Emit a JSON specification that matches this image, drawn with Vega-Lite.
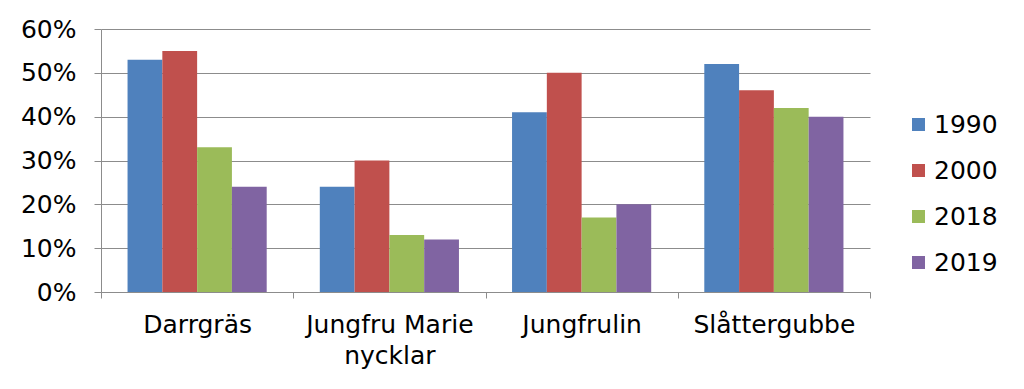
{
  "$schema": "https://vega.github.io/schema/vega-lite/v6.json",
  "width": 769,
  "height": 263,
  "autosize": {"type": "none"},
  "padding": {"left": 101, "top": 29, "right": 154, "bottom": 97},
  "background": "white",
  "config": {
    "view": {"stroke": null},
    "font": "DejaVu Sans"
  },
  "data": {
    "values": [
      {"art": "Darrgräs", "year": "1990", "value": 0.53},
      {"art": "Darrgräs", "year": "2000", "value": 0.55},
      {"art": "Darrgräs", "year": "2018", "value": 0.33},
      {"art": "Darrgräs", "year": "2019", "value": 0.24},
      {"art": "Jungfru Marie nycklar", "year": "1990", "value": 0.24},
      {"art": "Jungfru Marie nycklar", "year": "2000", "value": 0.30},
      {"art": "Jungfru Marie nycklar", "year": "2018", "value": 0.13},
      {"art": "Jungfru Marie nycklar", "year": "2019", "value": 0.12},
      {"art": "Jungfrulin", "year": "1990", "value": 0.41},
      {"art": "Jungfrulin", "year": "2000", "value": 0.50},
      {"art": "Jungfrulin", "year": "2018", "value": 0.17},
      {"art": "Jungfrulin", "year": "2019", "value": 0.20},
      {"art": "Slåttergubbe", "year": "1990", "value": 0.52},
      {"art": "Slåttergubbe", "year": "2000", "value": 0.46},
      {"art": "Slåttergubbe", "year": "2018", "value": 0.42},
      {"art": "Slåttergubbe", "year": "2019", "value": 0.40}
    ]
  },
  "mark": {"type": "bar"},
  "encoding": {
    "x": {
      "field": "art",
      "type": "nominal",
      "sort": null,
      "title": null,
      "scale": {"paddingInner": 0, "paddingOuter": 0},
      "axis": {
        "labelAngle": 0,
        "labelFontSize": 25,
        "labelColor": "black",
        "labelPadding": 14,
        "labelLineHeight": 31,
        "labelExpr": "datum.label == 'Jungfru Marie nycklar' ? ['Jungfru Marie', 'nycklar'] : datum.label",
        "tickBand": "extent",
        "tickSize": 6,
        "tickColor": "#8c8c8c",
        "domainColor": "#8c8c8c",
        "grid": false
      }
    },
    "xOffset": {
      "field": "year",
      "type": "nominal",
      "scale": {"paddingInner": 0, "paddingOuter": 0.763}
    },
    "y": {
      "field": "value",
      "type": "quantitative",
      "title": null,
      "scale": {"domain": [0, 0.6], "nice": false},
      "axis": {
        "format": ".0%",
        "values": [0, 0.1, 0.2, 0.3, 0.4, 0.5, 0.6],
        "labelFontSize": 25,
        "labelColor": "black",
        "labelPadding": 18,
        "tickSize": 7,
        "tickColor": "#8c8c8c",
        "domainColor": "#8c8c8c",
        "gridColor": "#8c8c8c",
        "gridWidth": 1.2
      }
    },
    "color": {
      "field": "year",
      "type": "nominal",
      "title": null,
      "scale": {"domain": ["1990", "2000", "2018", "2019"], "range": ["#4F81BD", "#C0504D", "#9BBB59", "#8064A2"]},
      "legend": {
        "orient": "none",
        "legendX": 805,
        "legendY": 83,
        "symbolType": "square",
        "symbolSize": 169,
        "symbolStrokeWidth": 0,
        "labelFontSize": 25,
        "labelColor": "black",
        "labelOffset": 3,
        "rowPadding": 20
      }
    }
  }
}
